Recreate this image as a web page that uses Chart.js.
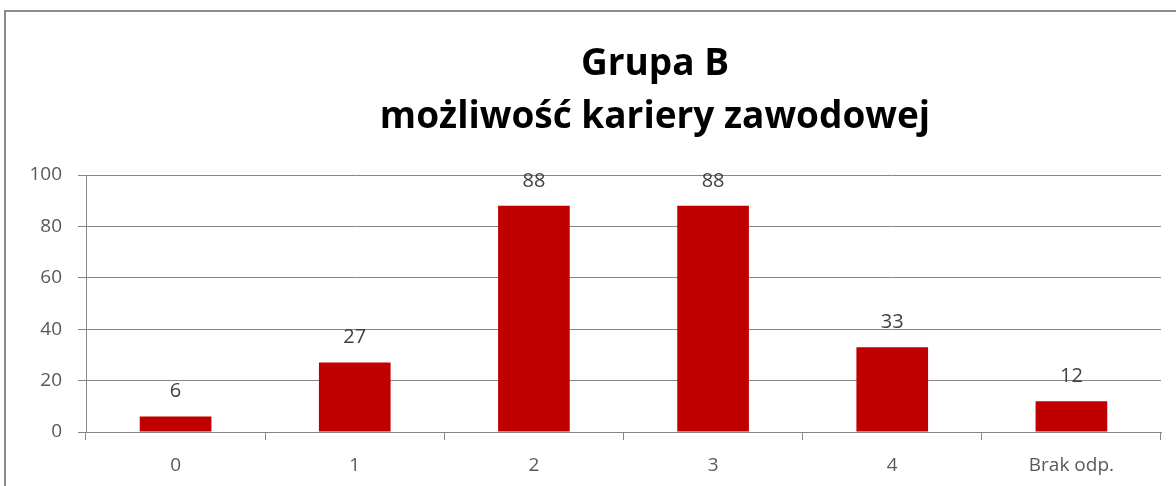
<!DOCTYPE html>
<html>
<head>
<meta charset="utf-8">
<script src="https://cdn.jsdelivr.net/npm/chart.js@4.4.0/dist/chart.umd.min.js"></script>
<style>
  html, body { margin: 0; padding: 0; background: #fff; }
  #frame {
    position: absolute; left: 4px; top: 10px; width: 1190px; height: 500px;
    border: 2px solid #8c8c8c; box-sizing: border-box;
  }
  #wrap { position: absolute; left: 0; top: 0; width: 1176px; height: 486px; }
</style>
</head>
<body>
<div id="frame"></div>
<div id="wrap"><canvas id="chart" width="1176" height="486"></canvas></div>
<script>
const categories = ["0", "1", "2", "3", "4", "Brak odp."];
const values = [6, 27, 88, 88, 33, 12];
const titleLines = ["Grupa B", "możliwość kariery zawodowej"];
const yTicks = [0, 20, 40, 60, 80, 100];

const FONT = "'Open Sans', Lato, sans-serif";

// two-line title, centred a bit right of the canvas middle like the original
const titleText = {
  id: "titleText",
  afterDraw(chart) {
    const ctx = chart.ctx;
    ctx.save();
    ctx.fillStyle = "#000";
    ctx.font = "bold 37px " + FONT;
    ctx.textAlign = "center";
    ctx.textBaseline = "alphabetic";
    ctx.fillText(titleLines[0], 655, 75);
    ctx.fillText(titleLines[1], 655, 128);
    ctx.restore();
  }
};

// value labels above the bars
const valueLabels = {
  id: "valueLabels",
  afterDatasetsDraw(chart) {
    const ctx = chart.ctx;
    const meta = chart.getDatasetMeta(0);
    ctx.save();
    ctx.fillStyle = "#404040";
    ctx.font = "20px " + FONT;
    ctx.textAlign = "center";
    ctx.textBaseline = "middle";
    meta.data.forEach((bar, i) => {
      ctx.fillText(String(values[i]), bar.x, bar.y - 25);
    });
    ctx.restore();
  }
};

new Chart(document.getElementById("chart"), {
  type: "bar",
  data: {
    labels: categories,
    datasets: [{
      data: values,
      backgroundColor: "#c00000",
      borderWidth: 0,
      barPercentage: 0.4,
      categoryPercentage: 1.0
    }]
  },
  options: {
    responsive: false,
    animation: false,
    layout: { padding: { left: 10, right: 15, top: 175, bottom: 0 } },
    plugins: {
      legend: { display: false },
      tooltip: { enabled: false },
      title: { display: false }
    },
    scales: {
      x: {
        offset: true,
        afterFit(axis) { axis.height = 54; },
        grid: {
          offset: true,
          drawOnChartArea: false,
          color: "#868686",
          tickLength: 8
        },
        border: { color: "#868686" },
        ticks: { color: "#595959", font: { family: FONT, size: 19 }, padding: 14 }
      },
      y: {
        min: 0,
        max: 100,
        afterBuildTicks(axis) { axis.ticks = yTicks.map(v => ({ value: v })); },
        afterFit(axis) { axis.width = 76; },
        grid: { color: "#868686", tickLength: 8 },
        border: { color: "#868686" },
        ticks: { color: "#595959", font: { family: FONT, size: 19 }, padding: 16 }
      }
    }
  },
  plugins: [valueLabels, titleText]
});
</script>
</body>
</html>
